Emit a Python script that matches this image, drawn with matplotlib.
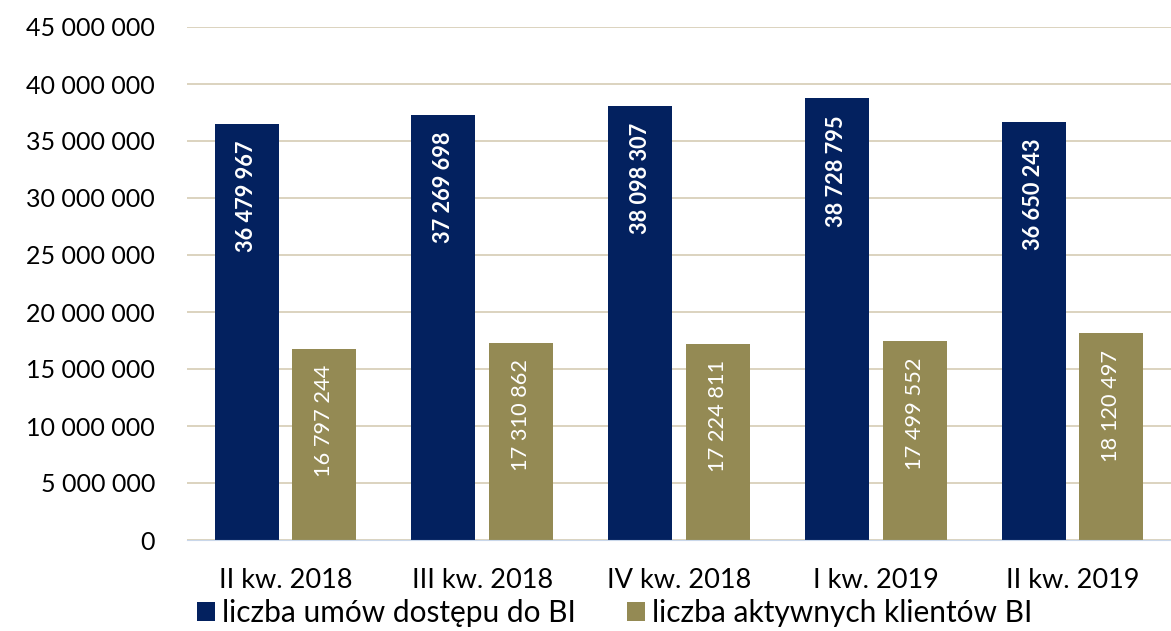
import matplotlib.pyplot as plt
import numpy as np

categories = ['II kw. 2018', 'III kw. 2018', 'IV kw. 2018', 'I kw. 2019', 'II kw. 2019']
umowy = [36479967, 37269698, 38098307, 38728795, 36650243]
aktywni = [16797244, 17310862, 17224811, 17499552, 18120497]
labels = ['liczba umów dostępu do BI', 'liczba aktywnych klientów BI']

navy = '#03215f'
olive = '#948a54'

plt.rcParams['font.family'] = ['Lato', 'DejaVu Sans']

def fmt(v):
    return f'{v:,}'.replace(',', ' ')

fig = plt.figure(figsize=(11.71, 6.31), dpi=100)
ax = fig.add_axes([187/1171, 91/631, 984/1171, 513/631])

x = np.arange(len(categories))
w = 0.325
gap = 0.07
b1 = ax.bar(x - (w + gap)/2, umowy, w, color=navy, label=labels[0], zorder=3)
b2 = ax.bar(x + (w + gap)/2, aktywni, w, color=olive, label=labels[1], zorder=3)

for rect, v in zip(b1, umowy):
    ax.annotate(fmt(v), (rect.get_x() + rect.get_width()/2, v), xytext=(0, -12),
                textcoords='offset points', rotation=90, ha='center', va='top',
                color='white', fontsize=15.7, fontweight='bold', zorder=4)
for rect, v in zip(b2, aktywni):
    ax.annotate(fmt(v), (rect.get_x() + rect.get_width()/2, v), xytext=(0, -12),
                textcoords='offset points', rotation=90, ha='center', va='top',
                color='white', fontsize=15.7, zorder=4)

ax.set_ylim(0, 45000000)
ax.set_xlim(-0.5, len(categories) - 0.5)
yt = np.arange(0, 45000001, 5000000)
ax.set_yticks(yt)
ax.set_yticklabels([fmt(int(t)) for t in yt], fontsize=18)
ax.set_xticks(x)
ax.set_xticklabels(categories, fontsize=19.5)
ax.tick_params(axis='both', length=0)
ax.tick_params(axis='y', pad=23)
ax.tick_params(axis='x', pad=20)
ax.grid(axis='y', color='#d6ccb4', linewidth=1.2, zorder=0)
for s in ['top', 'right', 'left']:
    ax.spines[s].set_visible(False)
ax.spines['bottom'].set_color('#c9d7ea')
ax.spines['bottom'].set_zorder(5)

fig.legend(loc='lower center', ncol=2, bbox_to_anchor=(0.525, -0.022), frameon=False,
           fontsize=21.5, handlelength=0.6, handleheight=0.6, handletextpad=0.25,
           columnspacing=1.7, borderaxespad=0.2)

fig.savefig('out.png', dpi=100)
